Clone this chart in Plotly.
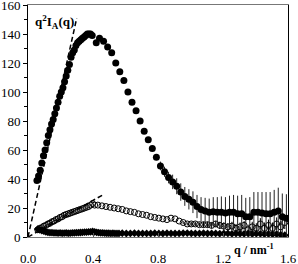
import plotly.graph_objects as go

# Filled circles series (q, value, error)
q_a = [0.055, 0.065, 0.075, 0.085, 0.095, 0.105, 0.115, 0.125, 0.135, 0.145,
       0.155, 0.165, 0.175, 0.185, 0.195, 0.205, 0.215, 0.225, 0.235, 0.245,
       0.255, 0.265, 0.275, 0.285, 0.295, 0.305, 0.315, 0.325, 0.335, 0.345,
       0.355, 0.365, 0.375, 0.385, 0.395,
       0.42, 0.44, 0.465, 0.49, 0.515, 0.54, 0.565, 0.59, 0.615, 0.64,
       0.665, 0.69, 0.715, 0.74, 0.765, 0.79, 0.815, 0.84, 0.865, 0.89,
       0.915, 0.94, 0.965, 0.99, 1.015, 1.04, 1.065, 1.09, 1.115, 1.14,
       1.165, 1.19, 1.215, 1.24, 1.265, 1.29, 1.315, 1.34, 1.365, 1.39,
       1.415, 1.44, 1.465, 1.49, 1.515, 1.54, 1.565, 1.59]
v_a = [39, 42, 46, 51, 56, 60, 65, 70, 74, 78,
       81, 85, 89, 93, 97, 100, 103, 107, 111, 115,
       119, 124, 127, 129, 132, 134, 135, 136, 137, 138,
       139, 140, 140, 140, 139,
       134, 137, 135, 131, 127, 120, 114, 108, 100, 93,
       87, 80, 73, 67, 61, 55, 49, 45, 41, 38,
       35, 31, 28, 26, 24, 21, 19, 18, 17, 17.5,
       17, 17, 16.5, 17, 17, 16, 16, 14, 14, 17,
       17, 16.5, 16, 16, 17, 18, 14, 13]
e_a = [0] * 35 + [0, 0, 0, 0, 0, 0, 0, 0, 0, 0,
                  0, 0, 0, 0, 1, 2, 3, 3.5, 4, 5,
                  5.5, 6, 6.5, 7, 7.5, 8, 8.5, 9, 9.5, 10,
                  10.5, 11, 11, 11.5, 12, 12.5, 13, 13, 13.5, 14,
                  14, 14.5, 15, 15, 15.5, 16, 16, 16.5]

# Open circles series
q_b = [0.06, 0.0725, 0.085, 0.0975, 0.11, 0.1225, 0.135, 0.1475, 0.16, 0.1725,
       0.185, 0.1975, 0.21, 0.2225, 0.235, 0.2475, 0.26, 0.2725, 0.285, 0.2975,
       0.31, 0.3225, 0.335, 0.3475, 0.36, 0.3725, 0.385, 0.3975, 0.41,
       0.43, 0.455, 0.48, 0.505, 0.53, 0.555, 0.58, 0.605, 0.63, 0.655,
       0.68, 0.705, 0.73, 0.755, 0.78, 0.805, 0.83, 0.855, 0.88, 0.905,
       0.93, 0.955, 0.98, 1.005, 1.03, 1.055, 1.08, 1.105, 1.13, 1.155,
       1.18, 1.205, 1.23, 1.255, 1.28, 1.305, 1.33, 1.355, 1.38, 1.405,
       1.43, 1.455, 1.48, 1.505, 1.53, 1.555, 1.58]
v_b = [5, 6, 6.5, 7.5, 8, 9, 9.5, 10.5, 11, 12,
       12.5, 13.5, 14, 15, 15.5, 16, 16.5, 17, 17.5, 18,
       18.5, 19, 19.5, 20, 20.5, 21, 22, 23, 22,
       22, 21.5, 21, 20.5, 20, 19.5, 19, 18, 17.5, 17,
       16, 15.5, 15, 14, 13.5, 13, 12.5, 12, 13, 12.5,
       11, 10, 9, 9, 9, 8.5, 8.5, 8.5, 8, 9,
       8, 7.5, 7, 7.5, 6, 7, 8, 5, 7, 6,
       9, 6, 8, 6, 9, 7, 10]
e_b = [0] * 29 + [0, 0, 0, 0, 0, 0, 0, 0, 0, 0,
                  0, 0, 0, 0, 0, 0, 0, 0, 0, 0,
                  0, 1, 1, 1.5, 1.5, 1.5, 2, 2, 2, 2,
                  2.5, 2.5, 2.5, 3, 3, 3, 3, 3.5, 3.5, 3.5,
                  4, 4, 4, 4, 4.5, 4.5, 4.5]

# Small filled diamonds series
q_c = [0.06, 0.0725, 0.085, 0.0975, 0.11, 0.1225, 0.135, 0.1475, 0.16, 0.1725,
       0.185, 0.1975, 0.21, 0.2225, 0.235, 0.2475, 0.26, 0.2725, 0.285, 0.2975,
       0.31, 0.3225, 0.335, 0.3475, 0.36, 0.3725, 0.385, 0.3975, 0.41, 0.4225,
       0.435, 0.4475, 0.46, 0.4725, 0.485, 0.4975, 0.51, 0.5225, 0.535, 0.5475,
       0.56, 0.58, 0.605, 0.63, 0.655, 0.68, 0.705, 0.73, 0.755, 0.78,
       0.805, 0.83, 0.855, 0.88, 0.905, 0.93, 0.955, 0.98, 1.005, 1.03,
       1.055, 1.08, 1.105, 1.13, 1.155, 1.18, 1.205, 1.23, 1.255, 1.28,
       1.305, 1.33, 1.355, 1.38, 1.405, 1.43, 1.455, 1.48, 1.505, 1.53,
       1.555, 1.58]
v_c = [5.5, 5, 4.5, 4, 3.5, 3.2, 3, 3, 2.8, 2.8,
       2.7, 2.8, 2.6, 2.7, 2.8, 2.6, 2.7, 2.8, 2.9, 3,
       3, 3.1, 3.2, 3.3, 3.4, 3.5, 3.6, 3.8, 3.5, 3.2,
       3, 2.9, 2.8, 2.7, 2.6, 2.6, 2.5, 2.6, 2.5, 2.5,
       2.5, 2.6, 2.4, 2.5, 2.6, 2.4, 2.5, 2.5, 2.4, 2.6,
       2.5, 2.4, 2.6, 2.5, 2.4, 2.5, 2.6, 2.7, 2.5, 2.4,
       2.5, 2.6, 2.4, 2.5, 2.5, 2.3, 2.4, 2.5, 2.2, 2.4,
       2.3, 2.2, 2.4, 2.1, 2.3, 2.2, 2.0, 2.1, 1.9, 2.0,
       1.5, 1.2]
e_c = [0] * 40 + [1, 1, 1, 1, 1, 1, 1, 1, 1, 1,
                  1, 1, 1, 1, 1, 1, 1, 1, 1, 1,
                  1, 1, 1, 1, 1, 1, 1, 1, 1, 1,
                  1, 1, 1, 1, 1, 1, 1, 1, 1, 1,
                  1, 1]

# Dashed guide lines
q_d1 = [0.0, 0.30]
v_d1 = [0.0, 151]
q_d2 = [0.0, 0.46]
v_d2 = [0.0, 29]

x_ticks = [0.0, 0.4, 0.8, 1.2, 1.6]
x_tick_labels = ["0.0", "0.4", "0.8", "1.2", "1.6"]
y_ticks = [0, 20, 40, 60, 80, 100, 120, 140, 160]

FONT = "Liberation Serif, Times New Roman, serif"

fig = go.Figure()

fig.add_trace(go.Scatter(x=q_d1, y=v_d1, mode="lines",
                         line=dict(color="black", width=1.5, dash="5px,3px"),
                         showlegend=False, hoverinfo="skip"))
fig.add_trace(go.Scatter(x=q_d2, y=v_d2, mode="lines",
                         line=dict(color="black", width=1.5, dash="5px,3px"),
                         showlegend=False, hoverinfo="skip"))

fig.add_trace(go.Scatter(x=q_c, y=v_c, mode="markers",
                         marker=dict(symbol="diamond", size=6, color="black"),
                         error_y=dict(type="data", array=e_c, color="black",
                                      thickness=1, width=0),
                         showlegend=False))
fig.add_trace(go.Scatter(x=q_b, y=v_b, mode="markers",
                         marker=dict(symbol="circle-open", size=6, color="black",
                                     line=dict(width=1)),
                         error_y=dict(type="data", array=e_b, color="black",
                                      thickness=1, width=0),
                         showlegend=False))
fig.add_trace(go.Scatter(x=q_a, y=v_a, mode="markers",
                         marker=dict(symbol="circle", size=7, color="black"),
                         error_y=dict(type="data", array=e_a, color="#222",
                                      thickness=1, width=0),
                         showlegend=False))

fig.add_annotation(x=0.03, y=148, xref="x", yref="y",
                   text="<b>q<sup>2</sup>I<sub>A</sub>(q)</b>",
                   showarrow=False, xanchor="left", yanchor="middle",
                   font=dict(family=FONT, size=13, color="black"))
fig.add_annotation(x=0.785, y=-0.055, xref="paper", yref="paper",
                   text="<b>q / nm<sup>-1</sup></b>",
                   showarrow=False, xanchor="left", yanchor="middle",
                   font=dict(family=FONT, size=12, color="black"))

fig.update_layout(
    width=298, height=264,
    margin=dict(l=28, r=10, t=5, b=27),
    paper_bgcolor="white", plot_bgcolor="white",
    font=dict(family=FONT, size=13, color="black"),
    showlegend=False,
)
fig.update_xaxes(range=[0, 1.6], tickvals=x_ticks, ticktext=x_tick_labels,
                 automargin=False,
                 showgrid=False, zeroline=False, showline=True,
                 linecolor="#777", linewidth=1, mirror=True,
                 ticks="inside", ticklen=4, tickcolor="#555",
                 ticklabelstandoff=9, ticklabeloverflow="allow",
                 tickfont=dict(family=FONT, size=13, color="black"))
fig.update_yaxes(range=[0, 160], tickvals=y_ticks,
                 automargin=False,
                 showgrid=False, zeroline=False, showline=True,
                 linecolor="black", linewidth=1, mirror=True,
                 ticks="outside", ticklen=4, tickcolor="black",
                 ticklabeloverflow="allow",
                 minor=dict(ticks="outside", ticklen=3, dtick=10, tickcolor="black"),
                 tickfont=dict(family=FONT, size=13, color="black"))

fig.write_html("out.html",
               config={"displayModeBar": False},
               post_script="document.body.style.margin='0';document.body.style.overflow='hidden';")
